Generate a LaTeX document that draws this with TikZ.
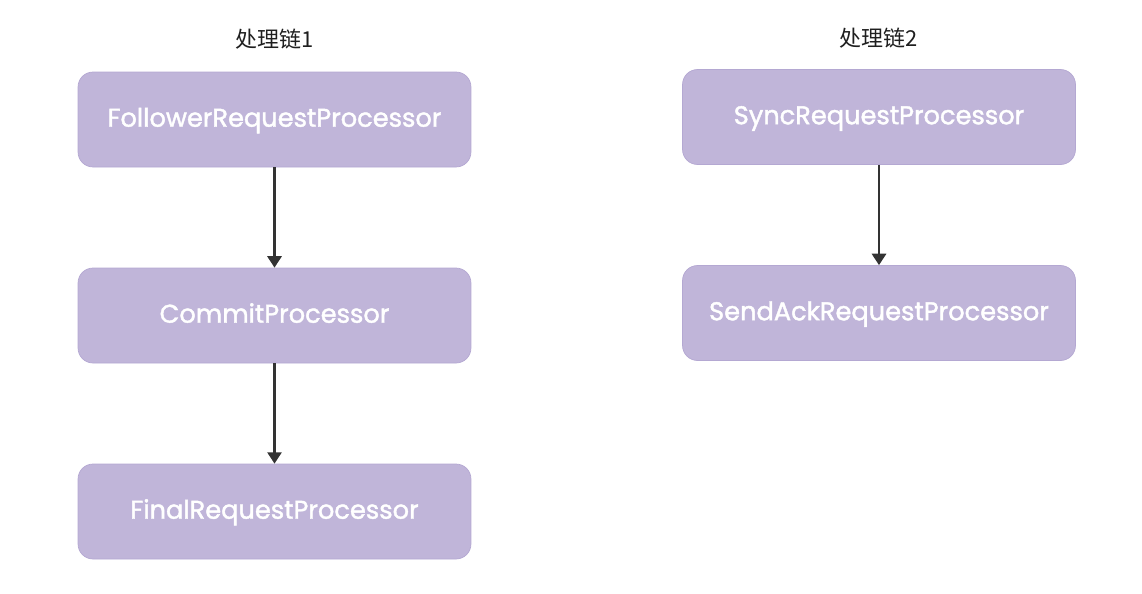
\documentclass[tikz,border=0pt]{standalone}
\usepackage{fontspec}
\setmainfont{Poppins}
\newfontfamily\procfont{Poppins}[FakeBold=1.6]
\newfontfamily\cjk{Noto Sans CJK SC}
\usetikzlibrary{arrows.meta}
\definecolor{procfill}{HTML}{C0B5D9}
\definecolor{procline}{HTML}{B4A8D2}
\definecolor{linkgray}{HTML}{333333}
\begin{document}
\begin{tikzpicture}[x=0.02cm,y=-0.02cm,
  proc/.style={draw=procline, fill=procfill, rounded corners=0.3cm, minimum width=7.86cm, minimum height=1.9cm, text height=1.5ex, text depth=0pt, text=white, font=\procfont\fontsize{14.6}{16}\selectfont},
  chain/.style={font=\cjk\fontsize{12.5}{14}\selectfont, text=black!88},
  link/.style={draw=linkgray, line width=1.5pt, -{Triangle[width=8pt,length=6.5pt]}}]
\useasboundingbox (0,0) rectangle (1142,593);

% chain 1
\node[chain] (t1) at (275,39) {处理链1};
\node[proc] (follower) at (274.5,119.5) {FollowerRequestProcessor};
\node[proc] (commit) at (274.5,315.5) {CommitProcessor};
\node[proc] (final) at (274.5,511.5) {FinalRequestProcessor};

% chain 2
\node[chain] (t2) at (879,38) {处理链2};
\node[proc] (sync) at (879,117) {SyncRequestProcessor};
\node[proc] (sendack) at (879,313) {SendAckRequestProcessor};

\draw[link] (follower) -- (commit);
\draw[link] (commit) -- (final);
\draw[link] (sync) -- (sendack);
\end{tikzpicture}
\end{document}
